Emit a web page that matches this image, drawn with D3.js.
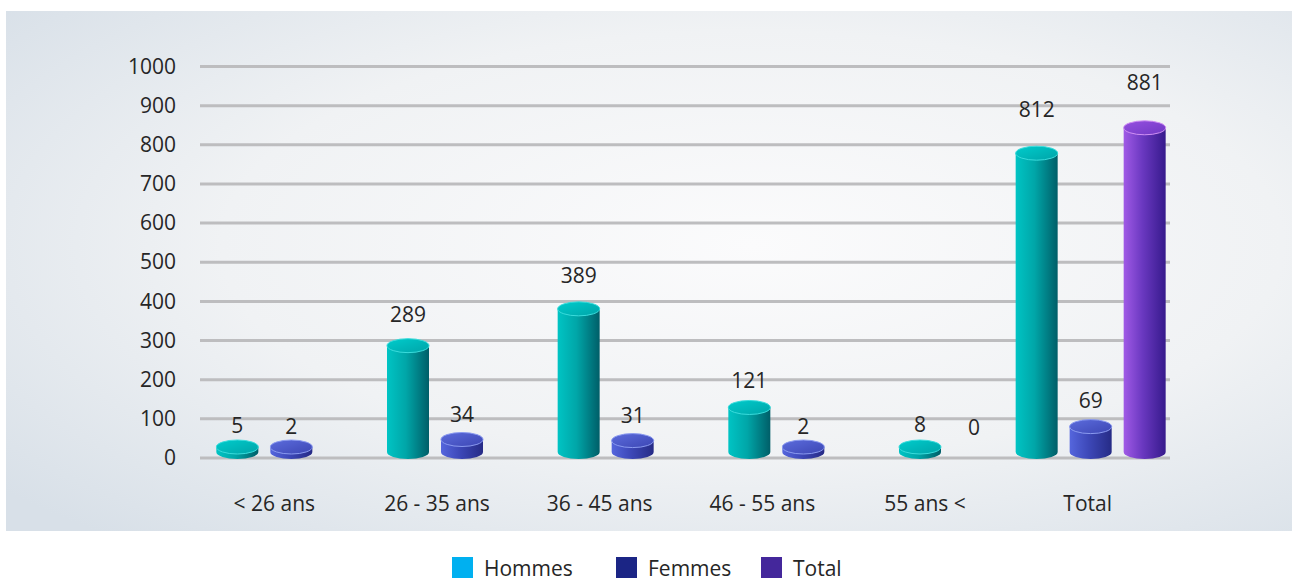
<!DOCTYPE html>
<html>
<head>
<meta charset="utf-8">
<script src="https://cdn.jsdelivr.net/npm/d3@7"></script>
<style>
  body { margin: 0; background: #fff; }
  svg { display: block; font-family: "Open Sans", sans-serif; }
</style>
</head>
<body>
<script>
'use strict'
const categories = ["< 26 ans", "26 - 35 ans", "36 - 45 ans", "46 - 55 ans", "55 ans <", "Total"];
const series = ["Hommes", "Femmes", "Total"];
const hommes = [5, 289, 389, 121, 8, 812];
const femmes = [2, 34, 31, 2, 0, 69];
const total = [null, null, null, null, null, 881];
const yTicks = [0, 100, 200, 300, 400, 500, 600, 700, 800, 900, 1000];

const w = 1299;
const h = 582;

const svg = d3.select("body")
	.append("svg")
	.attr("width", w)
	.attr("height", h);

const defs = svg.append("defs");

// panel background
const bg = defs.append("radialGradient")
	.attr("id", "bg")
	.attr("cx", "58%").attr("cy", "45%").attr("r", "75%");
bg.append("stop").attr("offset", "0%").attr("stop-color", "#fbfbfc");
bg.append("stop").attr("offset", "55%").attr("stop-color", "#f0f2f4");
bg.append("stop").attr("offset", "100%").attr("stop-color", "#d8e0e8");

svg.append("rect")
	.attr("x", 6).attr("y", 11)
	.attr("width", 1286).attr("height", 520)
	.attr("fill", "url(#bg)");

const colors = {
	Hommes: { side: ["#00c4c4", "#00a6a8", "#005e68"], top: ["#00cccc", "#00a4a8"], rim: "#3adcdc" },
	Femmes: { side: ["#5566dd", "#3d48b8", "#262b86"], top: ["#5c6cdc", "#3c46b4"], rim: "#8a9af0" },
	Total: { side: ["#a05ae6", "#6a38c0", "#361a8c"], top: ["#9650e0", "#7038c4"], rim: "#d090f4" }
};

series.forEach((s) => {
	const g = defs.append("linearGradient").attr("id", "side-" + s)
		.attr("x1", "0%").attr("x2", "100%").attr("y1", "0%").attr("y2", "0%");
	g.append("stop").attr("offset", "0%").attr("stop-color", colors[s].side[0]);
	g.append("stop").attr("offset", "45%").attr("stop-color", colors[s].side[1]);
	g.append("stop").attr("offset", "100%").attr("stop-color", colors[s].side[2]);
	const t = defs.append("linearGradient").attr("id", "top-" + s)
		.attr("x1", "0%").attr("x2", "100%").attr("y1", "0%").attr("y2", "100%");
	t.append("stop").attr("offset", "0%").attr("stop-color", colors[s].top[0]);
	t.append("stop").attr("offset", "100%").attr("stop-color", colors[s].top[1]);
});

// scales
const yScale = d3.scaleLinear()
	.domain([0, 1000])
	.range([458, 66.5]);

// 3D cylinders stand a bit behind the value plane
const barScale = d3.scaleLinear()
	.domain([0, 1000])
	.range([452, 84]);

const xBars = d3.scaleBand()
	.domain(categories)
	.range([152, 1176]);

const xSub = d3.scaleBand()
	.domain(series)
	.range([-81, 81]);

const xLabels = d3.scaleBand()
	.domain(categories)
	.range([193, 1169]);

// gridlines
svg.append("g")
	.selectAll("line")
	.data(yTicks)
	.enter()
	.append("line")
	.attr("x1", 200)
	.attr("x2", 1170)
	.attr("y1", (d) => yScale(d))
	.attr("y2", (d) => yScale(d))
	.attr("stroke", "#bdbdbf")
	.attr("stroke-width", 3);

const yAxis = d3.axisLeft(yScale)
	.tickValues(yTicks)
	.tickFormat(d3.format("d"))
	.tickSize(0)
	.tickPadding(0);

svg.append("g")
	.attr("transform", "translate(176,0)")
	.call(yAxis)
	.call((g) => g.select(".domain").remove())
	.selectAll("text")
	.attr("font-size", 21)
	.attr("font-family", "Open Sans")
	.attr("fill", "#262626");

const xAxis = d3.axisBottom(xLabels).tickSize(0).tickPadding(0);

svg.append("g")
	.attr("transform", "translate(0,496)")
	.call(xAxis)
	.call((g) => g.select(".domain").remove())
	.selectAll("text")
	.attr("font-size", 21)
	.attr("font-family", "Open Sans")
	.attr("fill", "#262626");

// flatten data
const bars = [];
categories.forEach((c, i) => {
	[hommes[i], femmes[i], total[i]].forEach((v, k) => {
		if (v === null) return;
		const s = series[k];
		const off = c === "Total" ? xSub(s) + xSub.bandwidth() / 2 : xSub(s) + xSub.bandwidth() * 1.5;
		bars.push({ cat: c, series: s, value: v, cx: xBars(c) + xBars.bandwidth() / 2 + off });
	});
});

const r = 21;
const ry = 7;

const cyl = svg.append("g")
	.selectAll("g")
	.data(bars.filter((d) => d.value > 0))
	.enter()
	.append("g");

const topY = (d) => Math.min(barScale(d.value), barScale(0) - 5);

cyl.append("path")
	.attr("d", (d) => {
		const b = barScale(0);
		const t = topY(d);
		return "M" + (d.cx - r) + "," + t + "L" + (d.cx - r) + "," + b +
			"A" + r + "," + ry + " 0 0 0 " + (d.cx + r) + "," + b +
			"L" + (d.cx + r) + "," + t + "Z";
	})
	.attr("fill", (d) => "url(#side-" + d.series + ")");

cyl.append("ellipse")
	.attr("cx", (d) => d.cx)
	.attr("cy", topY)
	.attr("rx", r)
	.attr("ry", ry)
	.attr("fill", (d) => "url(#top-" + d.series + ")")
	.attr("stroke", (d) => colors[d.series].rim)
	.attr("stroke-width", 1);

// value labels
svg.append("g")
	.selectAll("text")
	.data(bars)
	.enter()
	.append("text")
	.attr("x", (d) => d.cx)
	.attr("y", (d) => yScale(d.value) - 23)
	.attr("text-anchor", "middle")
	.attr("font-size", 21)
	.attr("fill", "#262626")
	.text((d) => d.value);

// legend
const legendColors = ["#00b0f0", "#1b2585", "#44279b"];
const legendX = [452, 616, 761];
const legend = svg.append("g")
	.selectAll("g")
	.data(series)
	.enter()
	.append("g")
	.attr("transform", (d, i) => "translate(" + legendX[i] + ",557)");

legend.append("rect")
	.attr("width", 21)
	.attr("height", 21)
	.attr("fill", (d, i) => legendColors[i]);

legend.append("text")
	.attr("x", 32)
	.attr("y", 19)
	.attr("font-size", 21)
	.attr("fill", "#262626")
	.text((d) => d);
</script>
</body>
</html>
